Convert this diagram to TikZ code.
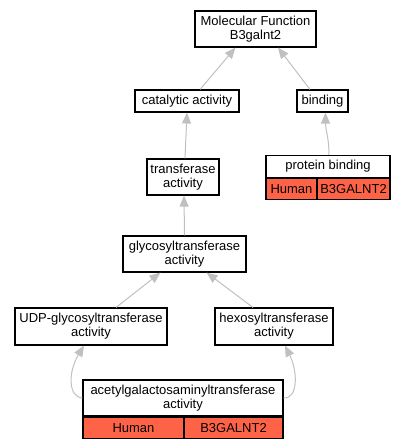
\documentclass[tikz,border=0pt]{standalone}
\usepackage{fontspec}
\setmainfont{Liberation Sans}
\usetikzlibrary{arrows.meta}
\definecolor{edgegray}{HTML}{C0C0C0}
\definecolor{tomato}{HTML}{FF6347}
\tikzset{
  term/.style={draw=black, line width=1.1pt, fill=white, inner sep=0pt, align=center,
    font=\fontsize{13}{14}\selectfont, minimum width=#1},
  term/.default={10pt},
  cell/.style={draw=black, line width=1.1pt, fill=tomato, inner sep=0pt, align=center,
    font=\fontsize{13}{14}\selectfont, minimum height=21pt},
  edge/.style={draw=edgegray, line width=1pt, -{Triangle[length=11pt,width=9pt,fill=edgegray]}},
}
\begin{document}
\begin{tikzpicture}[x=1pt,y=-1pt]
\useasboundingbox (0,0) rectangle (408,448);
% nodes
\node[term=121pt, minimum height=36pt] (mf) at (255.5,29) {Molecular Function\\B3galnt2};
\node[term=104pt, minimum height=22pt] (cat) at (187,101) {catalytic activity};
\node[term=51pt, minimum height=22pt] (bind) at (322.5,101) {binding};
\node[term=124pt, minimum height=22pt] (pbt) at (328,166.5) {protein binding};
\node[cell, minimum width=51pt, anchor=north west] (pbh) at (pbt.south west) {Human};
\node[cell, minimum width=73pt, anchor=north east] (pbg) at (pbt.south east) {B3GALNT2};
\node[term=72pt, minimum height=36pt] (trans) at (183,177) {transferase\\activity};
\node[term=123pt, minimum height=36pt] (gly) at (184.5,254) {glycosyltransferase\\activity};
\node[term=152pt, minimum height=37pt] (udp) at (91,326.5) {UDP-glycosyltransferase\\activity};
\node[term=118pt, minimum height=37pt] (hexo) at (274,326.5) {hexosyltransferase\\activity};
\node[term=200pt, minimum height=36pt] (acet) at (183,398) {acetylgalactosaminyltransferase\\activity};
\node[cell, minimum width=101pt, anchor=north west] (acetH) at (acet.south west) {Human};
\node[cell, minimum width=99pt, anchor=north east] (acetG) at (acet.south east) {B3GALNT2};
% edges
\draw[edge] ([xshift=13pt]cat.north) -- ([xshift=-20pt]mf.south);
\draw[edge] ([xshift=-12.5pt]bind.north) -- ([xshift=22.5pt]mf.south);
\draw[edge] ([xshift=1pt]pbt.north) .. controls ([xshift=1pt,yshift=18pt]pbt.north) and ([xshift=3pt,yshift=-18pt]bind.south) .. ([xshift=3pt]bind.south);
\draw[edge] ([xshift=2pt]trans.north) -- ([xshift=0pt]cat.south);
\draw[edge] (gly.north) -- ([xshift=1pt]trans.south);
\draw[edge] ([xshift=25pt]udp.north) -- ([xshift=-24pt]gly.south);
\draw[edge] ([xshift=-21pt]hexo.north) -- ([xshift=22pt]gly.south);
\draw[edge] (acet.west) .. controls (68,397) and (68,372) .. ([xshift=-7pt]udp.south);
\draw[edge] (acet.east) .. controls (298,399) and (298,372) .. ([xshift=11pt]hexo.south);
\end{tikzpicture}
\end{document}
